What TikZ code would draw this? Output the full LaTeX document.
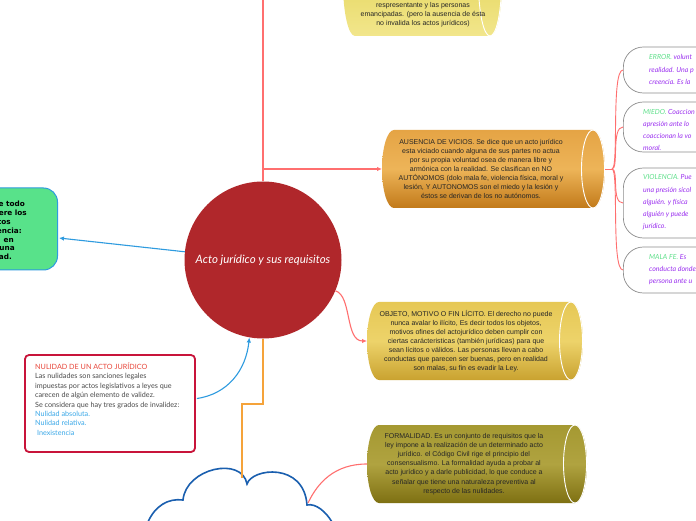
\documentclass[tikz,border=0pt]{standalone}
\usepackage{fontspec}
\setmainfont{Liberation Sans}
\newfontfamily\latofont{Lato}
\newfontfamily\boldfont{DejaVu Sans}
\usetikzlibrary{arrows.meta,calc}
\definecolor{circred}{HTML}{B0272B}
\definecolor{linered}{HTML}{FF6F6F}
\definecolor{lineblue}{HTML}{2E9BDF}
\definecolor{lineorange}{HTML}{F5A33A}
\definecolor{cloudblue}{HTML}{1A5FAF}
\definecolor{greenfill}{HTML}{58E28A}
\definecolor{nulred}{HTML}{C8143A}
\definecolor{nultitle}{HTML}{E8463A}
\definecolor{nulblue}{HTML}{3AA8E8}
\definecolor{txtgray}{HTML}{4A4A4A}
\definecolor{hgreen}{HTML}{5EE08A}
\definecolor{hpurple}{HTML}{9B30F0}
\definecolor{boxgray}{HTML}{8C8C8C}
\definecolor{orA}{HTML}{E5A445}
\definecolor{orB}{HTML}{EDB458}
\definecolor{orC}{HTML}{C27A1A}
\definecolor{yeA}{HTML}{E6C855}
\definecolor{yeB}{HTML}{EDD36A}
\definecolor{yeC}{HTML}{C9A230}
\definecolor{olA}{HTML}{A59932}
\definecolor{olB}{HTML}{B0A340}
\definecolor{olC}{HTML}{7E7012}
\definecolor{tyA}{HTML}{E0CF52}
\definecolor{tyB}{HTML}{E8DA68}
\definecolor{tyC}{HTML}{F2E68C}

\newcommand\cylshape[8]{%
  \pgfmathsetmacro\cylh{(#5-#3)/2}%
  \pgfmathsetmacro\cylm{(#5+#3)/2}%
  \pgfmathsetmacro\cylr{#4-12}%
  \pgfmathsetmacro\cyll{#2+12}%
  \path[top color=#6, bottom color=#8, middle color=#7] (\cylr,#5) -- (\cyll,#5)
     arc[start angle=90, end angle=270, x radius=12pt, y radius=\cylh pt] -- (\cylr,#3)
     arc[start angle=-90, end angle=90, x radius=12pt, y radius=\cylh pt] -- cycle;
  \draw[white, line width=0.9pt] (\cylr,\cylm) ellipse[x radius=11.5pt, y radius=\cylh pt];
  \node[inner sep=0, outer sep=0, minimum width={#4-#2}, minimum height={#5-#3}] (#1) at ({(#2+#4)/2},\cylm) {};
}

\begin{document}
\begin{tikzpicture}[x=1pt,y=1pt,
  conn/.style={line width=1.1pt},
  tip/.style={-{Latex[length=5pt,width=4.5pt]}},
  cyltext/.style={font=\fontsize{7}{9.1}\selectfont, align=center, text=black!85, inner sep=0},
  rbox/.style={draw=boxgray, line width=0.7pt, fill=white, rounded corners=20pt, minimum width=120pt, anchor=west, inner sep=0},
  rtext/.style={font=\latofont\itshape\fontsize{7}{12.3}\selectfont, align=left, anchor=west, inner sep=0, text=hpurple},
]
\useasboundingbox (0,0) rectangle (696,520);
\clip (0,0) rectangle (696,520);
\fill[white] (0,0) rectangle (696,520);

% central circle
\node[circle, fill=circred, minimum size=157pt, inner sep=0, text=white,
      font=\latofont\itshape\fontsize{11.5}{13}\selectfont] (center) at (263,260) {Acto jurídico y sus requisitos};

% cylinders
\cylshape{topbox}{343}{484}{502}{590}{tyA}{tyB}{tyC}
\node[cyltext] (topT) at (423,505) {respresentante y las personas\\emancipadas. (pero la ausencia de ésta\\no invalida los actos jurídicos)};

\cylshape{orange}{382}{312}{605}{390}{orA}{orB}{orC}
\node[cyltext] (orangeT) at (481,351) {AUSENCIA DE VICIOS. Se dice que un acto jurídico\\esta viciado cuando  alguna de sus partes no actua\\por su propia voluntad osea de manera libre y\\armónica con la realidad. Se clasifican en NO\\AUTÓNOMOS (dolo mala fe, violencia física, moral y\\lesión,   Y AUTONOMOS son el miedo y la lesión y\\éstos se derivan de los no autónomos.};

\cylshape{obj}{367}{140}{583}{218}{yeA}{yeB}{yeC}
\node[cyltext] (objT) at (466,179) {OBJETO, MOTIVO O FIN LÍCITO. El derecho no puede\\nunca avalar lo ilícito, Es decir todos los objetos,\\motivos ofines del actojurídico deben cumplir con\\ciertas carácteristicas (también jurídicas) para que\\sean lícitos o válidos. Las personas llevan a cabo\\conductas que parecen ser buenas, pero en realidad\\son malas, su fin es evadir la Ley.};

\cylshape{form}{367}{17}{587}{95}{olA}{olB}{olC}
\node[cyltext] (formT) at (464,56) {FORMALIDAD. Es un conjunto de requisitos que la\\ley impone a la realización de un determinado acto\\jurídico. el Código Civil rige el principio del\\consensualismo. La formalidad ayuda a probar al\\acto jurídico y a darle publicidad, lo que conduce a\\señalar que tiene una naturaleza preventiva al\\respecto de las nulidades.};

% right boxes
\node[rbox, minimum height=46pt] (err) at (623,450) {};
\node[rbox, minimum height=50pt] (mie) at (623,393) {};
\node[rbox, minimum height=70pt] (vio) at (623,317) {};
\node[rbox, minimum height=46pt] (mal) at (623,250) {};
\node[rtext] (errT) at (649,450.5) {\textcolor{hgreen}{ERROR.} volunt\\realidad. Una p\\creencia. Es la};
\node[rtext] (mieT) at (643,390) {\textcolor{hgreen}{MIEDO.} Coaccion\\apresión ante lo\\coaccionan la vo\\moral.};
\node[rtext] (vioT) at (643,317.5) {\textcolor{hgreen}{VIOLENCIA.} Pue\\una presión sicol\\alguién. y física\\alguién y puede\\jurídico.};
\node[rtext] (malT) at (649,250.5) {\textcolor{hgreen}{MALA FE.} Es\\conducta donde\\persona ante u};

% green box (left)
\node[draw=lineblue, fill=greenfill, rounded corners=14pt, line width=1pt, minimum width=100pt, minimum height=82pt, anchor=east, inner sep=0] (green) at (58,291) {};
\node[font=\boldfont\bfseries\fontsize{7.3}{8.85}\selectfont, align=right, anchor=east, inner sep=0] (greenT) at (27,289.5)
 {e todo\hspace*{2pt}\null\\ere los\\tos\hspace*{16pt}\null\\encia:\hspace*{5pt}\null\\. en\hspace*{13pt}\null\\una\hspace*{12pt}\null\\ad.\hspace*{15pt}\null};

% nulidad box
\node[draw=nulred, line width=1.8pt, rounded corners=4pt, fill=white, minimum width=170pt, minimum height=97pt, inner sep=0] (nul) at (110,116.5) {};
\node[font=\latofont\fontsize{7.2}{9.4}\selectfont, align=left, anchor=west, inner sep=0] (nulT) at (35,121)
 {\textcolor{nultitle}{NULIDAD DE UN ACTO JURÍDICO}\\
  \textcolor{txtgray}{Las nulidades son  sanciones legales}\\
  \textcolor{txtgray}{impuestas por actos legislativos a leyes que}\\
  \textcolor{txtgray}{carecen de algún elemento de validez.}\\
  \textcolor{txtgray}{Se considera que hay tres grados de invalidez:}\\
  \textcolor{nulblue}{Nulidad absoluta.}\\
  \textcolor{nulblue}{Nulidad relativa.}\\
  \textcolor{nulblue}{\ Inexistencia}};

% cloud
\path[fill=white, draw=cloudblue, line width=1.6pt] (148,-2)
  .. controls (155,14) and (168,22) .. (183,20)
  .. controls (186,52) and (242,64) .. (247,36)
  .. controls (252,52) and (304,58) .. (307,15)
  .. controls (316,17) and (326,8) .. (332,-2);
\coordinate (cloudtop) at (242,42);
\coordinate (cloudright) at (308,17);

% connectors
\coordinate (jr) at (263,351);
\coordinate (toplink) at (263,530);
\draw[conn, linered] (center.north) -- (jr) -- (toplink);
\draw[conn, linered, tip] (jr) -- (orange.west);
\draw[conn, linered, tip] (center.-23) .. controls (352,224) and (345,179) .. (obj.west);
\draw[conn, linered] (cloudright) .. controls (318,38) and (335,56) .. (form.west);

\coordinate (br) at (612,351);
\draw[conn, linered, line width=0.9pt] (orange.east) -- (br);
\foreach \b in {err,mie,vio,mal}{
  \draw[linered, line width=0.9pt] (br) .. controls (619,351) and ($(\b.west)+(-12,0)$) .. (\b.west);
}

\draw[conn, lineblue, tip] (center.174) -- ($(green.east)+(1,-9)$);
\draw[conn, lineblue, tip] ($(nul.east)+(1,5)$) .. controls (228,126) and (246,150) .. (center.260);
\draw[conn, lineorange] (center.south) -- (263,116) -- (242,116) -- (cloudtop);
\end{tikzpicture}
\end{document}
